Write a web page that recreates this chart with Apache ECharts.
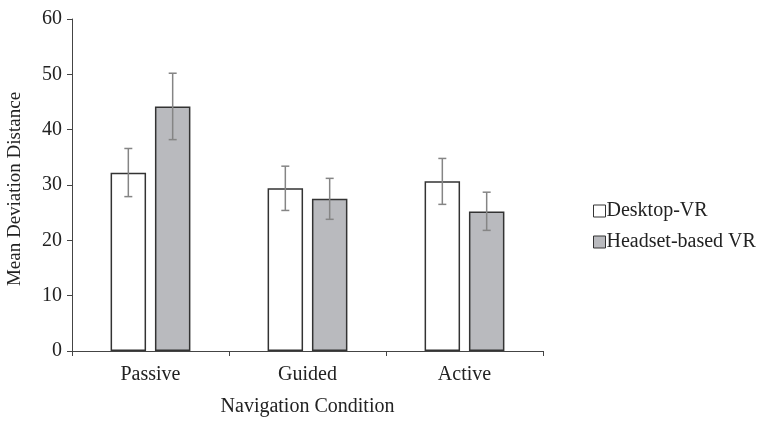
<!DOCTYPE html>
<html>
<head>
<meta charset="utf-8">
<script src="https://cdn.jsdelivr.net/npm/echarts@6/dist/echarts.min.js"></script>
<style>html,body{margin:0;padding:0;background:#fff}#c{width:759px;height:422px}</style>
</head>
<body>
<div id="c"></div>
<script>
const categories = ['Passive', 'Guided', 'Active'];
const seriesNames = ['Desktop-VR', 'Headset-based VR'];
const desktopMean = [32.2, 29.4, 30.7];
const desktopLow = [27.9, 25.4, 26.5];
const desktopHigh = [36.6, 33.4, 34.8];
const headsetMean = [44.2, 27.5, 25.2];
const headsetLow = [38.2, 23.8, 21.8];
const headsetHigh = [50.2, 31.2, 28.7];
const yTicks = [0, 10, 20, 30, 40, 50, 60];

const FONT = '"Liberation Serif", "Times New Roman", serif';
const BAR_W = 0.226;   // fraction of band
const BAR_GAP = 0.25;  // fraction of bar width

function errSeries(low, high, sign) {
  return {
    type: 'custom',
    silent: true,
    z: 5,
    data: categories.map((c, i) => [i, low[i], high[i]]),
    renderItem: function (params, api) {
      const band = api.size([1, 0])[0];
      const bw = band * BAR_W;
      const off = sign * (bw + bw * BAR_GAP) / 2;
      const lo = api.coord([api.value(0), api.value(1)]);
      const hi = api.coord([api.value(0), api.value(2)]);
      const x = lo[0] + off;
      const cap = 4;
      const st = { stroke: '#858585', lineWidth: 1.5 };
      return {
        type: 'group',
        children: [
          { type: 'line', shape: { x1: x, y1: lo[1], x2: x, y2: hi[1] }, style: st },
          { type: 'line', shape: { x1: x - cap, y1: lo[1], x2: x + cap, y2: lo[1] }, style: st },
          { type: 'line', shape: { x1: x - cap, y1: hi[1], x2: x + cap, y2: hi[1] }, style: st }
        ]
      };
    }
  };
}

const chart = echarts.init(document.getElementById('c'));
chart.setOption({
  animation: false,
  backgroundColor: '#fff',
  textStyle: { fontFamily: FONT },
  grid: { left: 72, right: 216, top: 19, bottom: 65, containLabel: false },
  legend: {
    orient: 'vertical',
    left: 588,
    top: 196,
    itemWidth: 12,
    itemHeight: 12,
    itemGap: 11,
    icon: 'rect',
    data: seriesNames,
    itemStyle: { borderWidth: 1 },
    formatter: name => '{t|' + name + '}',
    textStyle: {
      fontFamily: FONT, fontSize: 20, color: '#222',
      rich: { t: { fontFamily: FONT, fontSize: 20, color: '#222', padding: [0, 0, 0, -4] } }
    }
  },
  xAxis: {
    type: 'category',
    data: categories,
    name: 'Navigation Condition',
    nameLocation: 'middle',
    nameGap: 46,
    nameTextStyle: { fontFamily: FONT, fontSize: 20, color: '#222' },
    axisLine: { lineStyle: { color: '#444', width: 1 } },
    axisTick: { show: true, length: 5, lineStyle: { color: '#444' } },
    axisLabel: { fontFamily: FONT, fontSize: 20, color: '#222', margin: 14 }
  },
  yAxis: {
    type: 'value',
    min: 0,
    max: 60,
    interval: 10,
    splitLine: { show: false },
    axisLine: { show: true, lineStyle: { color: '#444', width: 1 } },
    axisTick: { show: true, length: 5, lineStyle: { color: '#444' } },
    axisLabel: { fontFamily: FONT, fontSize: 20, color: '#222', margin: 10,
      formatter: v => yTicks.includes(v) ? String(v) : '' }
  },
  graphic: [{
    type: 'text',
    x: 15,
    y: 189,
    rotation: Math.PI / 2,
    style: { text: 'Mean Deviation Distance', font: '19px ' + FONT, fill: '#222',
      textAlign: 'center', textVerticalAlign: 'middle' }
  }],
  series: [
    {
      name: seriesNames[0], type: 'bar', data: desktopMean,
      barWidth: (BAR_W * 100) + '%', barGap: (BAR_GAP * 100) + '%',
      itemStyle: { color: '#ffffff', borderColor: '#333', borderWidth: 1.5 }
    },
    {
      name: seriesNames[1], type: 'bar', data: headsetMean,
      barWidth: (BAR_W * 100) + '%', barGap: (BAR_GAP * 100) + '%',
      itemStyle: { color: '#b9babe', borderColor: '#333', borderWidth: 1.5 }
    },
    errSeries(desktopLow, desktopHigh, -1),
    errSeries(headsetLow, headsetHigh, 1)
  ]
});
</script>
</body>
</html>
